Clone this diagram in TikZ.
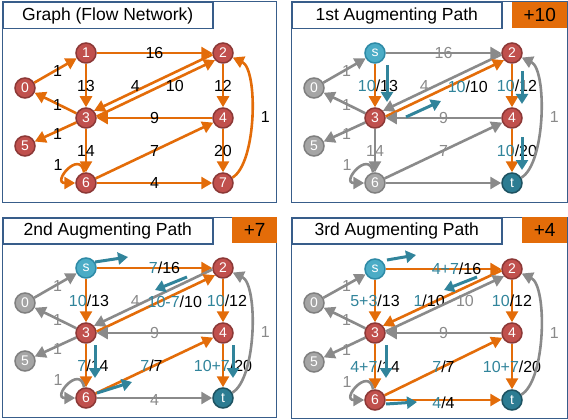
\documentclass[tikz,border=0pt]{standalone}
\usepackage{fontspec}
\setmainfont{Liberation Sans}
\usetikzlibrary{arrows.meta}

\definecolor{floworange}{HTML}{E36C09}
\definecolor{flowgray}{HTML}{8A8A8A}
\definecolor{flowblue}{HTML}{31849B}
\definecolor{framecol}{HTML}{385D8A}
\definecolor{vred}{HTML}{C0504D}
\definecolor{vreddark}{HTML}{8C3836}
\definecolor{vsrc}{HTML}{4BACC6}
\definecolor{vsrcdark}{HTML}{2E8AA6}
\definecolor{vsink}{HTML}{2C7C92}
\definecolor{vsinkdark}{HTML}{1D5261}
\definecolor{vgray}{HTML}{A5A5A5}
\definecolor{vgraydark}{HTML}{7F7F7F}

\newcommand{\flowlbl}[2]{\textcolor{flowblue}{#1}/#2}

\begin{document}
\begin{tikzpicture}[
        x=1pt, y=-1pt,
        vtx/.style={circle, minimum size=20pt, inner sep=0pt, line width=1.5pt, text=white, font=\fontsize{14}{14}\selectfont},
        redv/.style={vtx, fill=vred, draw=vreddark},
        srcv/.style={vtx, fill=vsrc, draw=vsrcdark},
        sinkv/.style={vtx, fill=vsink, draw=vsinkdark},
        grayv/.style={vtx, fill=vgray, draw=vgraydark},
        edge/.style={-{Triangle[length=11pt,width=12pt]}, line width=2.6pt},
        oredge/.style={edge, draw=floworange},
        gredge/.style={edge, draw=flowgray},
        lbl/.style={inner sep=0pt, font=\fontsize{16}{16}\selectfont},
        glbl/.style={lbl, text=flowgray},
        flowarr/.style={-{Triangle[length=10pt,width=12pt]}, line width=3pt, draw=flowblue},
        panel/.style={draw=framecol, line width=1pt},
        titlebox/.style={draw=framecol, line width=1.5pt, fill=white, anchor=north west, minimum width=210pt, minimum height=26pt, font=\fontsize{17.5}{17.5}\selectfont},
        gainbox/.style={fill=floworange, anchor=north west, minimum height=26pt, font=\fontsize{19}{19}\selectfont},
        selfloop/.style={out=100, in=180, min distance=24pt},
        backloop/.style={out=30, in=-25, looseness=0.6}
    ]
    \useasboundingbox (0,0) rectangle (568,420);

    % Graph (flow network)
    \begin{scope}[shift={(2,2)}]
    \draw[panel] (0,0) rectangle (274,200);
    \node[titlebox] (atitle) at (0,0) {Graph (Flow Network)};
    \node[redv] (a0) at (23,86) {0};
    \node[redv] (a1) at (84,51) {1};
    \node[redv] (a2) at (221,51) {2};
    \node[redv] (a3) at (84,116) {3};
    \node[redv] (a4) at (221,116) {4};
    \node[redv] (a5) at (23,144) {5};
    \node[redv] (a6) at (84,181) {6};
    \node[redv] (a7) at (221,181) {7};
    \draw[oredge] (a0) -- node[lbl, xshift=2pt] {1} (a1);
    \draw[oredge] (a1) -- node[lbl] {16} (a2);
    \draw[oredge] (a1) -- node[lbl] {13} (a3);
    \draw[oredge] (a3) -- node[lbl, xshift=2pt, yshift=-2pt] {1} (a0);
    \draw[oredge] (a3) -- node[lbl, xshift=2pt, yshift=-2pt] {1} (a5);
    \draw[oredge] (a2.188) -- node[lbl, pos=0.65, yshift=5pt] {4} (a3.42);
    \draw[oredge] (a3.8) -- node[lbl, pos=0.66, yshift=-7pt] {10} (a2.222);
    \draw[oredge] (a2) -- node[lbl] {12} (a4);
    \draw[oredge] (a4) -- node[lbl] {9} (a3);
    \draw[oredge] (a3) -- node[lbl] {14} (a6);
    \draw[oredge] (a6) -- node[lbl] {7} (a4);
    \draw[oredge] (a6) -- node[lbl] {4} (a7);
    \draw[oredge] (a4) -- node[lbl] {20} (a7);
    \draw[oredge] (a7) to[backloop] node[lbl, xshift=14pt] {1} (a2);
    \draw[oredge] (a6) to[selfloop] node[lbl, xshift=-11pt, yshift=4pt] {1} (a6);
    \end{scope}

    % 1st augmenting path
    \begin{scope}[shift={(291,2)}]
    \draw[panel] (0,0) rectangle (276,200);
    \node[titlebox] (btitle) at (0,0) {1st Augmenting Path};
    \node[gainbox, minimum width=55pt] (bgain) at (221,0) {+10};
    \node[grayv] (b0) at (23,86) {0};
    \node[srcv] (b1) at (84,51) {s};
    \node[redv] (b2) at (221,51) {2};
    \node[redv] (b3) at (84,116) {3};
    \node[redv] (b4) at (221,116) {4};
    \node[grayv] (b5) at (23,144) {5};
    \node[grayv] (b6) at (84,181) {6};
    \node[sinkv] (b7) at (221,181) {t};
    \draw[gredge] (b0) -- node[glbl, xshift=2pt] {1} (b1);
    \draw[gredge] (b1) -- node[glbl] {16} (b2);
    \draw[oredge] (b1) -- node[lbl, xshift=3pt] {\flowlbl{10}{13}} (b3);
    \draw[gredge] (b3) -- node[glbl, xshift=2pt, yshift=-2pt] {1} (b0);
    \draw[gredge] (b3) -- node[glbl, xshift=2pt, yshift=-2pt] {1} (b5);
    \draw[gredge] (b2.188) -- node[glbl, pos=0.65, yshift=5pt] {4} (b3.42);
    \draw[oredge] (b3.8) -- node[lbl, pos=0.66, xshift=4pt, yshift=-7pt] {\flowlbl{10}{10}} (b2.222);
    \draw[oredge] (b2) -- node[lbl, xshift=5pt] {\flowlbl{10}{12}} (b4);
    \draw[gredge] (b4) -- node[glbl] {9} (b3);
    \draw[gredge] (b3) -- node[glbl] {14} (b6);
    \draw[gredge] (b6) -- node[glbl] {7} (b4);
    \draw[gredge] (b6) -- (b7);
    \draw[oredge] (b4) -- node[lbl, xshift=5pt] {\flowlbl{10}{20}} (b7);
    \draw[gredge] (b7) to[backloop] node[glbl, xshift=14pt] {1} (b2);
    \draw[gredge] (b6) to[selfloop] node[glbl, xshift=-11pt, yshift=4pt] {1} (b6);
    % flow direction
    \draw[flowarr] (96,63) -- (96,100);
    \draw[flowarr] (115,115) -- (150,99);
    \draw[flowarr] (231,69) -- (231,102);
    \draw[flowarr] (231,135) -- (231,168);
    \end{scope}

    % 2nd augmenting path
    \begin{scope}[shift={(2,217)}]
    \draw[panel] (0,0) rectangle (274,200);
    \node[titlebox] (ctitle) at (0,0) {2nd Augmenting Path};
    \node[gainbox, minimum width=45pt] (cgain) at (230,0) {+7};
    \node[grayv] (c0) at (23,86) {0};
    \node[srcv] (c1) at (84,51) {s};
    \node[redv] (c2) at (221,51) {2};
    \node[redv] (c3) at (84,116) {3};
    \node[redv] (c4) at (221,116) {4};
    \node[grayv] (c5) at (23,144) {5};
    \node[redv] (c6) at (84,181) {6};
    \node[sinkv] (c7) at (221,181) {t};
    \draw[gredge] (c0) -- node[glbl, xshift=2pt] {1} (c1);
    \draw[oredge] (c1) -- node[lbl, xshift=10pt] {\flowlbl{7}{16}} (c2);
    \draw[oredge] (c1) -- node[lbl, xshift=3pt] {\flowlbl{10}{13}} (c3);
    \draw[gredge] (c3) -- node[glbl, xshift=2pt, yshift=-2pt] {1} (c0);
    \draw[gredge] (c3) -- node[glbl, xshift=2pt, yshift=-2pt] {1} (c5);
    \draw[gredge] (c2.188) -- node[glbl, pos=0.65, yshift=5pt] {4} (c3.42);
    \draw[oredge] (c3.8) -- node[lbl, pos=0.66, yshift=-7pt] {\flowlbl{10-7}{10}} (c2.222);
    \draw[oredge] (c2) -- node[lbl, xshift=4pt] {\flowlbl{10}{12}} (c4);
    \draw[gredge] (c4) -- node[glbl] {9} (c3);
    \draw[oredge] (c3) -- node[lbl, xshift=7pt] {\flowlbl{7}{14}} (c6);
    \draw[oredge] (c6) -- node[lbl, xshift=-3pt] {\flowlbl{7}{7}} (c4);
    \draw[gredge] (c6) -- node[glbl, yshift=-2pt] {4} (c7);
    \draw[oredge] (c4) -- node[lbl] {\flowlbl{10+7}{20}} (c7);
    \draw[gredge] (c7) to[backloop] node[glbl, xshift=14pt] {1} (c2);
    \draw[gredge] (c6) to[selfloop] node[glbl, xshift=-11pt, yshift=4pt] {1} (c6);
    % flow direction
    \draw[flowarr] (93,45) -- (126,40);
    \draw[flowarr] (185,60) -- (153,73);
    \draw[flowarr] (93,128) -- (93,161);
    \draw[flowarr] (95,176) -- (130,165);
    \draw[flowarr] (231,128) -- (231,161);
    \end{scope}

    % 3rd augmenting path
    \begin{scope}[shift={(291,217)}]
    \draw[panel] (0,0) rectangle (276,201);
    \node[titlebox] (dtitle) at (0,0) {3rd Augmenting Path};
    \node[gainbox, minimum width=45pt] (dgain) at (231,0) {+4};
    \node[grayv] (d0) at (23,86) {0};
    \node[srcv] (d1) at (84,52) {s};
    \node[redv] (d2) at (221,52) {2};
    \node[redv] (d3) at (84,116) {3};
    \node[redv] (d4) at (221,116) {4};
    \node[grayv] (d5) at (23,145) {5};
    \node[redv] (d6) at (84,183) {6};
    \node[sinkv] (d7) at (221,183) {t};
    \draw[gredge] (d0) -- node[glbl, xshift=2pt] {1} (d1);
    \draw[oredge] (d1) -- node[lbl, xshift=13pt] {\flowlbl{4+7}{16}} (d2);
    \draw[oredge] (d1) -- node[lbl] {\flowlbl{5+3}{13}} (d3);
    \draw[gredge] (d3) -- node[glbl, xshift=2pt, yshift=-2pt] {1} (d0);
    \draw[gredge] (d3) -- node[glbl, xshift=2pt, yshift=-2pt] {1} (d5);
    \draw[oredge] (d2.188) -- node[lbl, pos=0.61, yshift=3pt] {\flowlbl{1}{10}} (d3.42);
    \draw[gredge] (d3.8) -- node[glbl, pos=0.67, yshift=-7pt] {10} (d2.222);
    \draw[oredge] (d2) -- node[lbl] {\flowlbl{10}{12}} (d4);
    \draw[gredge] (d4) -- node[glbl] {9} (d3);
    \draw[oredge] (d3) -- node[lbl] {\flowlbl{4+7}{14}} (d6);
    \draw[oredge] (d6) -- node[lbl] {\flowlbl{7}{7}} (d4);
    \draw[oredge] (d6) -- node[lbl, yshift=-3pt] {\flowlbl{4}{4}} (d7);
    \draw[oredge] (d4) -- node[lbl] {\flowlbl{10+7}{20}} (d7);
    \draw[gredge] (d7) to[backloop] node[glbl, xshift=14pt] {1} (d2);
    \draw[gredge] (d6) to[selfloop] node[glbl, xshift=-11pt, yshift=4pt] {1} (d6);
    % flow direction
    \draw[flowarr] (96,43) -- (125,38);
    \draw[flowarr] (186,60) -- (153,73);
    \draw[flowarr] (95,128) -- (95,161);
    \draw[flowarr] (95,187) -- (126,185);
    \end{scope}
\end{tikzpicture}
\end{document}
